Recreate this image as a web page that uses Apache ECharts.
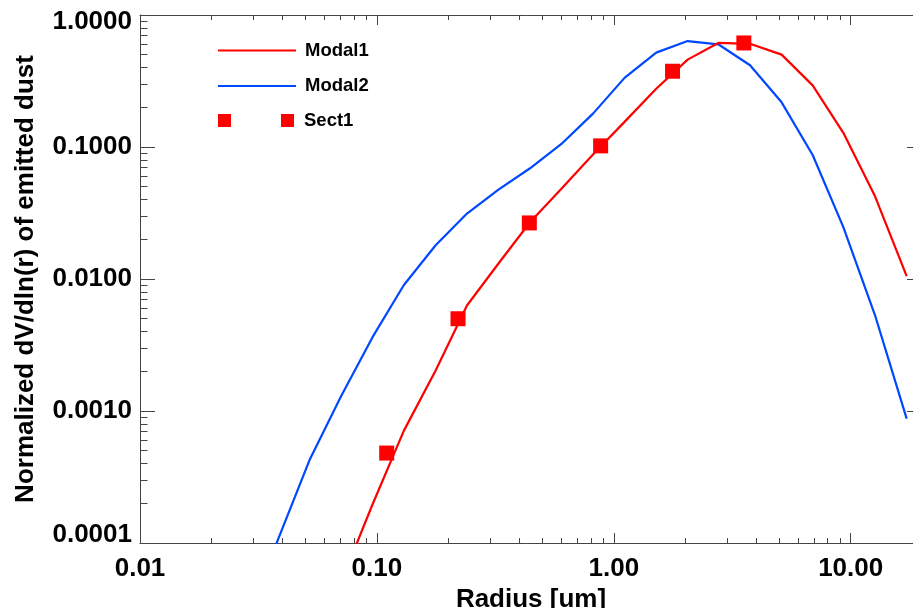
<!DOCTYPE html>
<html>
<head>
<meta charset="utf-8">
<script src="https://cdn.jsdelivr.net/npm/echarts@6/dist/echarts.min.js"></script>
<style>
html,body{margin:0;padding:0;background:#fff;}
#chart{width:913px;height:608px;}
</style>
</head>
<body>
<div id="chart"></div>
<script>
// ---- data ----
const radius = [0.0282, 0.0383, 0.0519, 0.0705, 0.0957, 0.130, 0.177, 0.240, 0.326, 0.443, 0.601, 0.817, 1.11, 1.51, 2.05, 2.76, 3.76, 5.11, 6.91, 9.31, 12.67, 17.23];
const modal1 = [null, null, null, 5.0e-5, 1.95e-4, 7.1e-4, 2.03e-3, 6.3e-3, 0.0131, 0.0269, 0.0482, 0.0878, 0.155, 0.276, 0.459, 0.614, 0.605, 0.501, 0.293, 0.128, 0.0423, 0.0105];
const modal2 = [2.5e-5, 1.07e-4, 4.23e-4, 1.29e-3, 3.61e-3, 9.0e-3, 0.0180, 0.0313, 0.0476, 0.0690, 0.1054, 0.179, 0.334, 0.519, 0.635, 0.600, 0.416, 0.218, 0.0869, 0.0247, 0.00531, 8.75e-4];
const sectRadius = [0.11, 0.22, 0.44, 0.88, 1.77, 3.54];
const sect1 = [4.8e-4, 5.0e-3, 0.0266, 0.102, 0.375, 0.614];
const seriesNames = ['Modal1', 'Modal2', 'Sect1'];
const xTitle = 'Radius [um]';
const yTitle = 'Normalized dV/dln(r) of emitted dust';
const xRange = [0.01, 20];
const yRange = [0.0001, 1];
const xMinorTicks = [0.02,0.03,0.04,0.05,0.06,0.07,0.08,0.09,0.2,0.3,0.4,0.5,0.6,0.7,0.8,0.9,2,3,4,5,6,7,8,9];
const yMinorTicks = [0.0002,0.0003,0.0004,0.0005,0.0006,0.0007,0.0008,0.0009,0.002,0.003,0.004,0.005,0.006,0.007,0.008,0.009,0.02,0.03,0.04,0.05,0.06,0.07,0.08,0.09,0.2,0.3,0.4,0.5,0.6,0.7,0.8,0.9];

// ---- styling ----
const FONT = 'Liberation Sans';
const AX = '#444';
const RED = '#ff0000';
const BLUE = '#0048ff';
const lg = Math.log10;

function isDecade(v){ const l = lg(v); return Math.abs(l - Math.round(l)) < 1e-6; }
function near(a, b){ return Math.abs(lg(a) - lg(b)) < 1e-6; }

const chart = echarts.init(document.getElementById('chart'), null, {renderer: 'canvas'});

const labelStyle = {color: '#000', fontSize: 26, fontWeight: 'bold', fontFamily: FONT};

function majorAxis(pos, withLabels, isX){
  const range = isX ? xRange : yRange;
  const ax = {
    type: 'log', logBase: 10, position: pos,
    min: range[0], max: range[1],
    axisLine: {show: true, onZero: false, lineStyle: {color: AX, width: 1}},
    axisTick: {show: true, inside: true, length: isX ? 10 : 15, lineStyle: {color: AX, width: 1}},
    axisLabel: {show: false},
    splitLine: {show: false}
  };
  if (withLabels) {
    ax.axisLabel = Object.assign({
      show: true, margin: isX ? 13 : 8, showMaxLabel: true, showMinLabel: true,
      formatter: function(v){
        if (!isDecade(v)) return '';
        if (isX) return v.toFixed(2);
        const s = v.toFixed(4);
        if (near(v, yRange[1])) return '{t|' + s + '}';
        if (near(v, yRange[0])) return '{b|' + s + '}';
        return s;
      },
      rich: {
        t: Object.assign({padding: [14, 0, 0, 0]}, labelStyle),
        b: Object.assign({padding: [0, 0, 17, 0]}, labelStyle)
      }
    }, labelStyle);
  }
  return ax;
}
function minorAxis(pos, isX){
  const range = isX ? xRange : yRange;
  const ticks = isX ? xMinorTicks : yMinorTicks;
  return {
    type: 'value', position: pos,
    min: lg(range[0]), max: lg(range[1]),
    axisLine: {show: false, onZero: false},
    axisTick: {show: true, inside: true, length: isX ? 5 : 7.5, customValues: ticks.map(lg), lineStyle: {color: AX, width: 1}},
    axisLabel: {show: false},
    splitLine: {show: false}
  };
}

const xAxes = [majorAxis('bottom', true, true), minorAxis('bottom', true), majorAxis('top', false, true), minorAxis('top', true)];
xAxes[0].name = xTitle;
xAxes[0].nameLocation = 'middle';
xAxes[0].nameGap = 40;
xAxes[0].nameTextStyle = Object.assign({}, labelStyle);

// right-side minor ticks fall outside the 913px canvas, so only the major right axis is kept
const yAxes = [majorAxis('left', true, false), minorAxis('left', false), majorAxis('right', false, false)];
yAxes[0].name = yTitle;
yAxes[0].nameLocation = 'middle';
yAxes[0].nameGap = 101;
yAxes[0].nameTextStyle = Object.assign({}, labelStyle);

const legendText = {color: '#000', fontSize: 18.5, fontWeight: 'bold', fontFamily: FONT, padding: [0, 0, 0, 4]};

const option = {
  animation: false,
  backgroundColor: '#fff',
  textStyle: {fontFamily: FONT},
  grid: {left: 140, top: 15, right: -9, bottom: 65, containLabel: false, outerBoundsMode: 'none'},
  xAxis: xAxes,
  yAxis: yAxes,
  legend: [
    {
      show: true, orient: 'vertical', left: 213, top: 36,
      itemWidth: 78, itemHeight: 2, itemGap: 16.5, icon: 'rect',
      textStyle: legendText,
      data: [seriesNames[0], seriesNames[1]],
      selectedMode: false
    },
    {
      show: true, orient: 'vertical', left: 213, top: 106,
      itemWidth: 78, itemHeight: 13,
      textStyle: legendText,
      data: [{name: seriesNames[2], icon: 'path://M0,0h13v13h-13z M63,0h13v13h-13z'}],
      selectedMode: false
    }
  ],
  series: [
    {
      name: seriesNames[0], type: 'line', xAxisIndex: 0, yAxisIndex: 0,
      data: radius.map((r, i) => [r, modal1[i]]),
      symbol: 'none', showSymbol: false, clip: true,
      lineStyle: {color: RED, width: 2.2}, itemStyle: {color: RED}, z: 3
    },
    {
      name: seriesNames[1], type: 'line', xAxisIndex: 0, yAxisIndex: 0,
      data: radius.map((r, i) => [r, modal2[i]]),
      symbol: 'none', showSymbol: false, clip: true,
      lineStyle: {color: BLUE, width: 2.2}, itemStyle: {color: BLUE}, z: 2
    },
    {
      name: seriesNames[2], type: 'scatter', xAxisIndex: 0, yAxisIndex: 0,
      data: sectRadius.map((r, i) => [r, sect1[i]]),
      symbol: 'rect', symbolSize: 15,
      itemStyle: {color: RED, opacity: 1}, z: 4
    }
  ]
};
chart.setOption(option);
</script>
</body>
</html>
